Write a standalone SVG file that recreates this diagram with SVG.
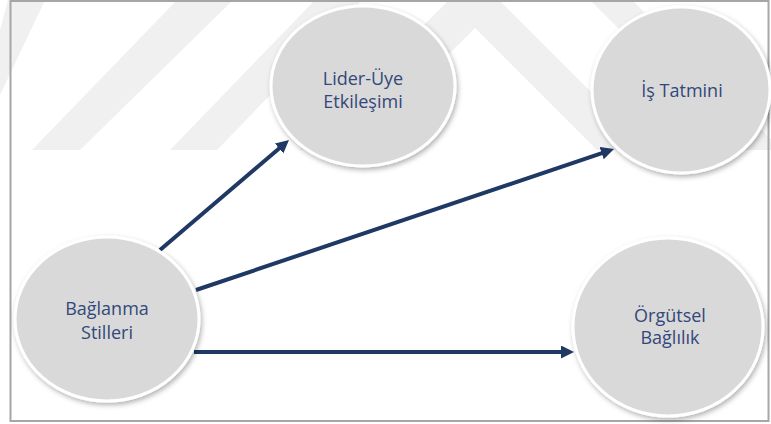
<svg xmlns="http://www.w3.org/2000/svg" width="771" height="424" viewBox="0 0 771 424">
<style>
.wm{fill:#f0f0f0}
.node ellipse{fill:#d9d9d9;stroke:#ffffff;stroke-width:3;filter:url(#sh)}
.node text{font-family:"Open Sans","Noto Sans","Liberation Sans",sans-serif;font-size:18px;fill:#33487a;text-anchor:middle}
.conn line{stroke:#1f3864;stroke-width:4;marker-end:url(#ah)}
</style>
<defs>
<filter id="sh" x="-20%" y="-20%" width="140%" height="140%">
<feDropShadow dx="1.5" dy="2.5" stdDeviation="2.5" flood-color="#000" flood-opacity="0.3"/>
</filter>
<marker id="ah" markerUnits="userSpaceOnUse" markerWidth="14" markerHeight="14" refX="5" refY="6.5" orient="auto">
<path d="M0,0 L13,6.5 L0,13 z" fill="#1f3864"/>
</marker>
</defs>
<rect width="771" height="424" fill="#ffffff"/>
<g id="watermark">
<polygon class="wm" points="8,0 45,0 0,95 0,30"/>
<polygon class="wm" points="177,0 233,0 80,150 32,150"/>
<polygon class="wm" points="315,0 362,0 217,150 170,150"/>
<polygon class="wm" points="299,150 474,-25 649,150 597,150 475,28 353,150"/>
<polygon class="wm" points="590,0 632,0 782,150 740,150"/>
</g>
<rect x="10.5" y="1" width="758" height="420" fill="none" stroke="#a6a6a6" stroke-width="2"/>
<g id="connectors" class="conn">
<line x1="160" y1="250" x2="282.9" y2="145.2"/>
<line x1="196" y1="290" x2="606.4" y2="151.6"/>
<line x1="194" y1="352" x2="566" y2="352"/>
</g>
<g id="node-baglanma" class="node">
<ellipse cx="107" cy="319" rx="92" ry="82"/>
<text x="107" y="315">Bağlanma</text>
<text x="107" y="339">Stilleri</text>
</g>
<g id="node-lider" class="node">
<ellipse cx="363" cy="86" rx="92" ry="80"/>
<text x="363" y="85">Lider-Üye</text>
<text x="363" y="108">Etkileşimi</text>
</g>
<g id="node-is" class="node">
<ellipse cx="681" cy="90" rx="89" ry="83"/>
<text x="682" y="97">İş Tatmini</text>
</g>
<g id="node-orgutsel" class="node">
<ellipse cx="668" cy="327" rx="95" ry="89"/>
<text x="670" y="322">Örgütsel</text>
<text x="670" y="344">Bağlılık</text>
</g>
</svg>
